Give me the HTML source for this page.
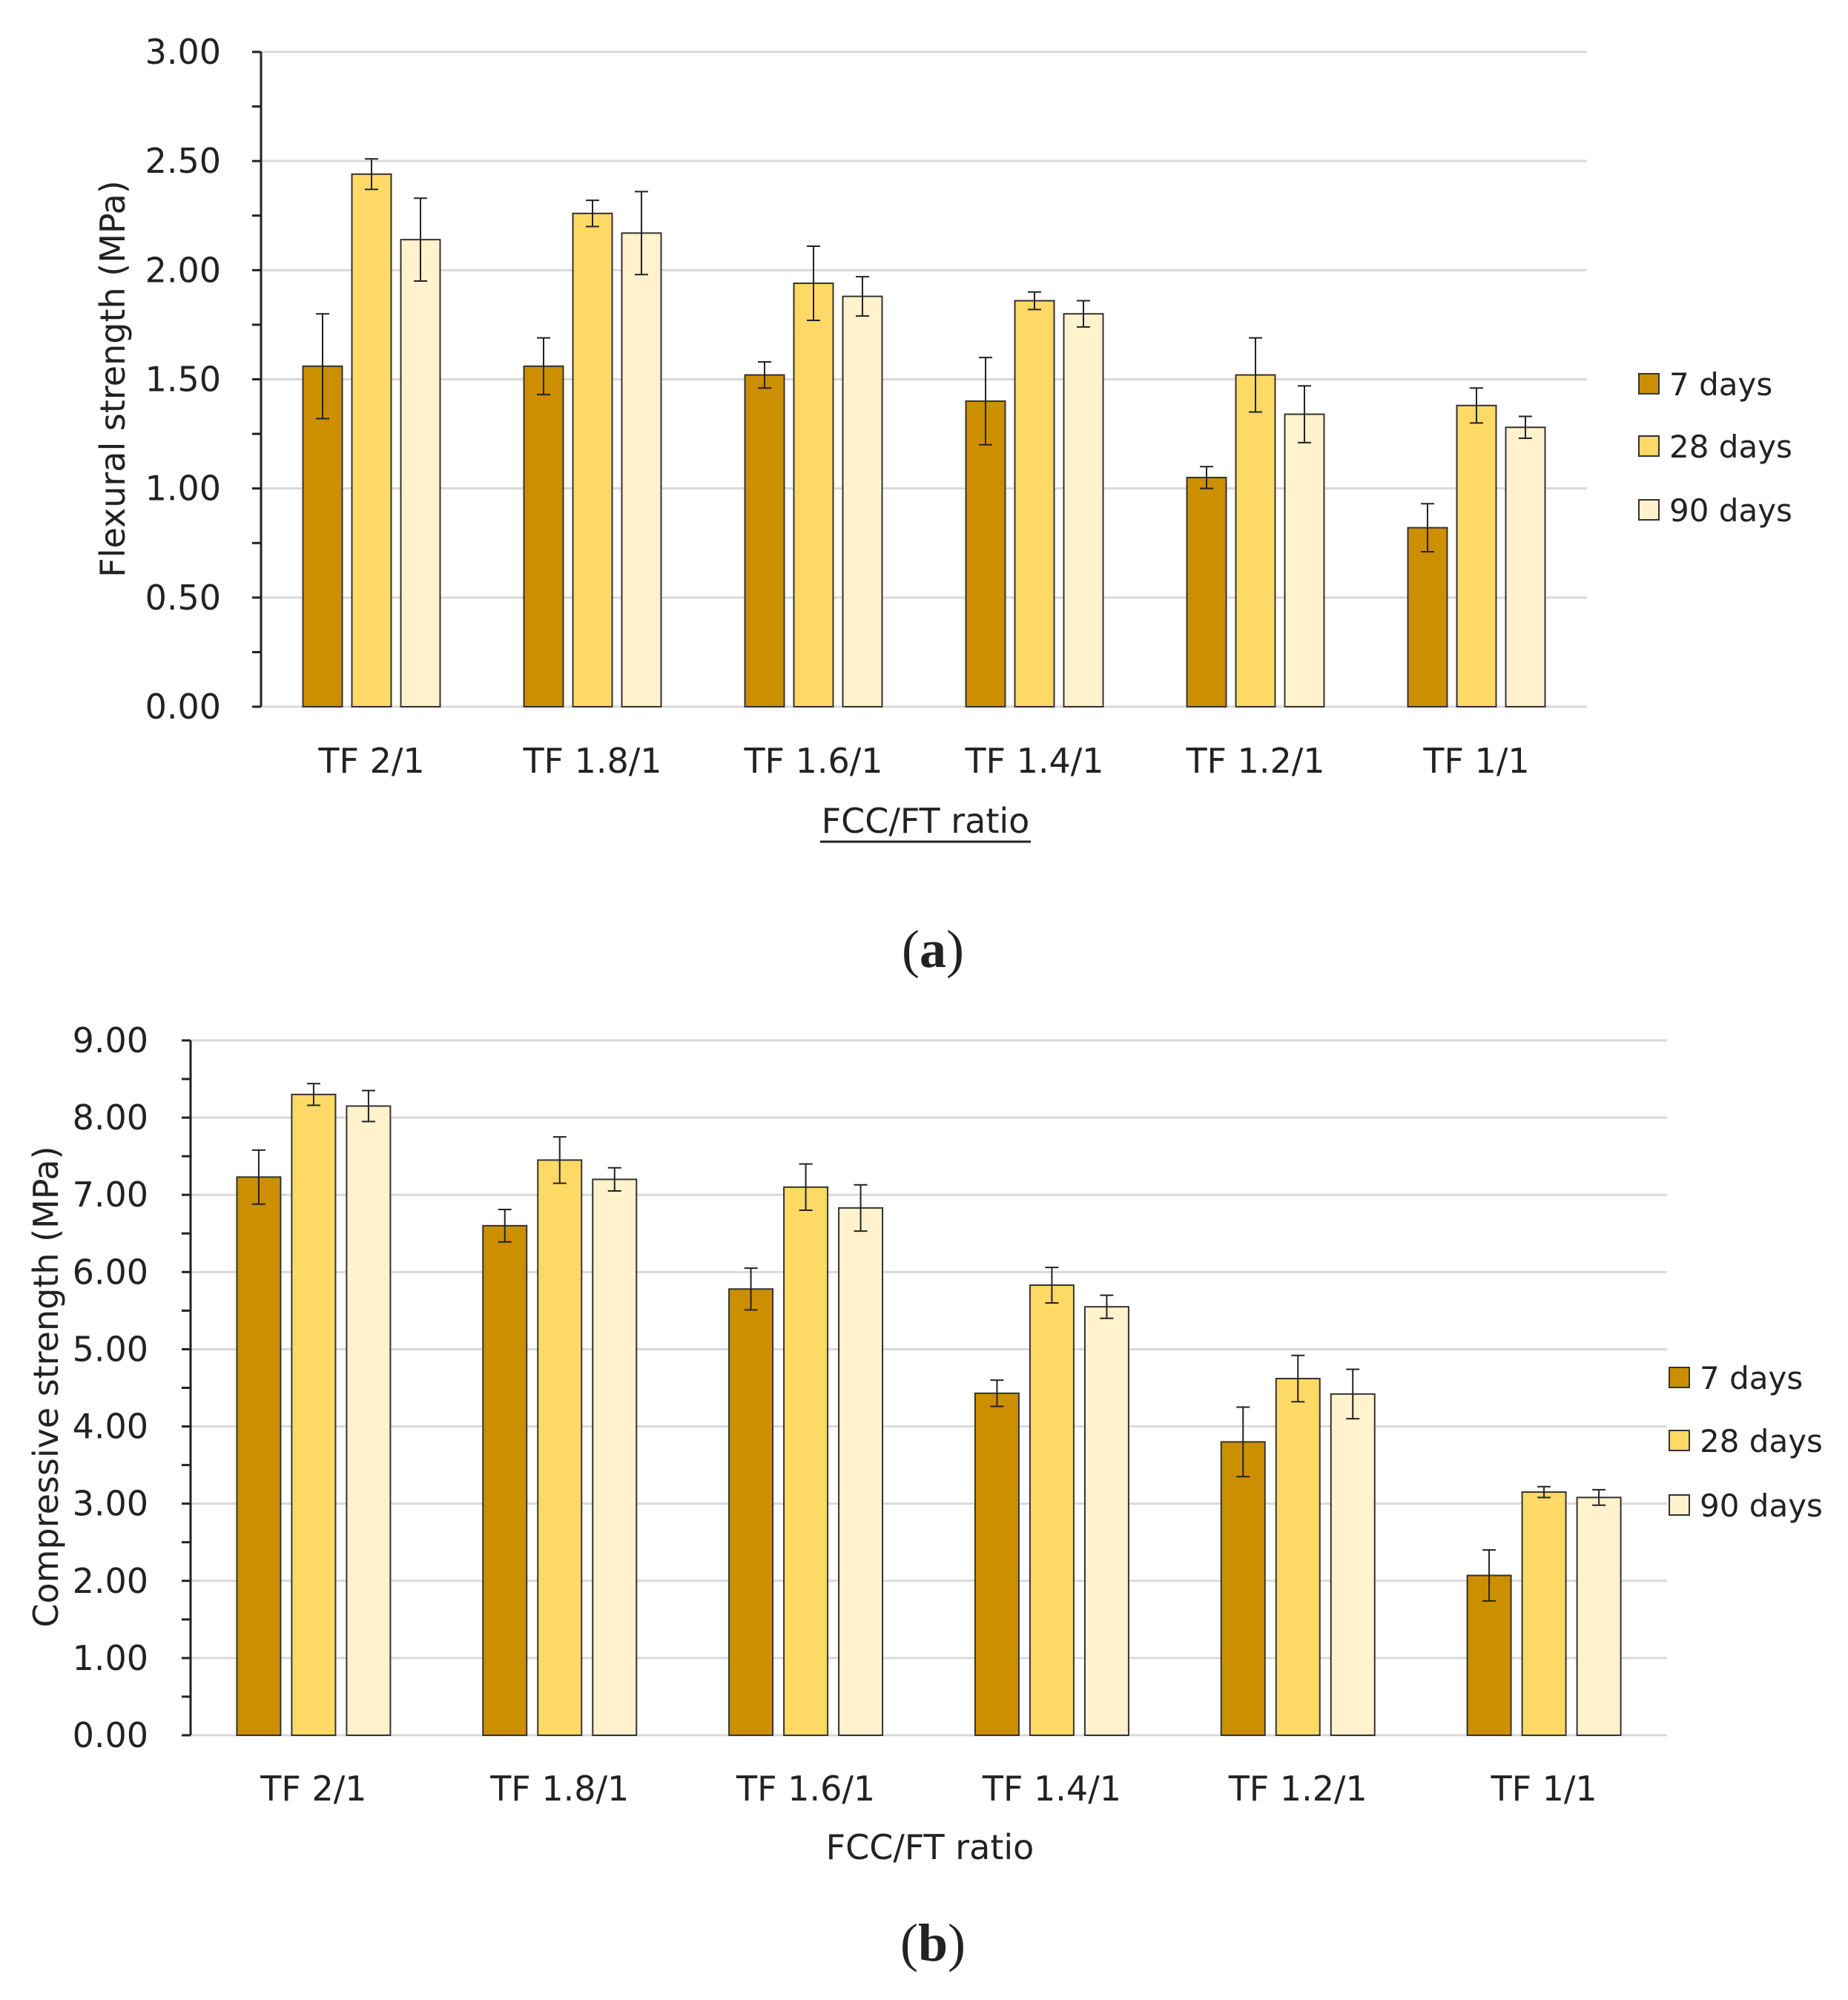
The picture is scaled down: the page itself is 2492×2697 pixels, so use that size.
<!DOCTYPE html>
<html><head><meta charset="utf-8">
<style>
html,body{margin:0;padding:0;background:#fff;}
svg{display:block;}
text{font-family:"DejaVu Sans","Liberation Sans",sans-serif;fill:#222;}
</style></head>
<body>
<svg id="s" xmlns="http://www.w3.org/2000/svg" width="2492" height="2697" viewBox="0 0 2492 2697"></svg>
<script>
const s=document.getElementById('s');let h='';
const cols=['#CC8F00','#FFD966','#FFF2CC'];
const cats=['TF 2/1','TF 1.8/1','TF 1.6/1','TF 1.4/1','TF 1.2/1','TF 1/1'];
function chart(o){
 const {x0,x1,yT,yB,max,step,minor,data,bw,pitch,lblR,ylab,ylx,yly,catY,axY,axLab,legX,legY,under,fs}=o;
 const sc=(yB-yT)/max;
 for(let v=0;v<=max+1e-9;v+=step){const y=yB-v*sc;
  h+=`<line x1="${x0}" x2="${x1}" y1="${y}" y2="${y}" stroke="#d9d9d9" stroke-width="3"/>`;
  h+=`<text x="${lblR}" y="${y+16}" font-size="${fs}" text-anchor="end">${v.toFixed(2)}</text>`;}
 for(let v=0;v<=max+1e-9;v+=minor){const y=yB-v*sc;h+=`<line x1="${x0-12}" x2="${x0}" y1="${y}" y2="${y}" stroke="#222" stroke-width="3"/>`;}
 const gw=(x1-x0)/6;
 data.forEach((g,i)=>{const c=x0+gw*(i+0.5);
  g.forEach((d,j)=>{const bx=c+(j-1)*pitch-bw/2;const y=yB-d[0]*sc;
   h+=`<rect x="${bx}" y="${y}" width="${bw}" height="${yB-y}" fill="${cols[j]}" stroke="#333" stroke-width="2"/>`;
   const cx=c+(j-1)*pitch,e1=yB-(d[0]+d[1])*sc,e2=yB-(d[0]-d[1])*sc;
   h+=`<line x1="${cx}" x2="${cx}" y1="${e1}" y2="${e2}" stroke="#222" stroke-width="2"/><line x1="${cx-9}" x2="${cx+9}" y1="${e1}" y2="${e1}" stroke="#222" stroke-width="2"/><line x1="${cx-9}" x2="${cx+9}" y1="${e2}" y2="${e2}" stroke="#222" stroke-width="2"/>`;});
  h+=`<text x="${c}" y="${catY}" font-size="${fs}" text-anchor="middle">${cats[i]}</text>`;});
 h+=`<line x1="${x0}" x2="${x0}" y1="${yT}" y2="${yB}" stroke="#222" stroke-width="3"/>`;
 h+=`<text transform="translate(${ylx},${yly}) rotate(-90)" font-size="${fs}" text-anchor="middle">${ylab}</text>`;
 h+=`<text x="${axLab[0]}" y="${axY}" font-size="${fs}" text-anchor="middle">FCC/FT ratio</text>`;
 if(under)h+=`<line x1="${axLab[0]-142}" x2="${axLab[0]+142}" y1="${axY+12}" y2="${axY+12}" stroke="#222" stroke-width="3"/>`;
 ['7 days','28 days','90 days'].forEach((t,j)=>{const y=legY[j];
  h+=`<rect x="${legX}" y="${y-14}" width="27" height="27" fill="${cols[j]}" stroke="#333" stroke-width="2"/><text x="${legX+41}" y="${y+15}" font-size="42">${t}</text>`;});
}
chart({x0:352,x1:2140,yT:70,yB:953,max:3,step:0.5,minor:0.25,bw:53,pitch:66,lblR:298,fs:46,
 ylab:'Flexural strength (MPa)',ylx:168,yly:511,catY:1042,axY:1123,axLab:[1248],legX:2210,legY:[518,602,688],under:true,
 data:[[[1.56,.24],[2.44,.07],[2.14,.19]],[[1.56,.13],[2.26,.06],[2.17,.19]],[[1.52,.06],[1.94,.17],[1.88,.09]],[[1.40,.20],[1.86,.04],[1.80,.06]],[[1.05,.05],[1.52,.17],[1.34,.13]],[[0.82,.11],[1.38,.08],[1.28,.05]]]});
chart({x0:257,x1:2248,yT:1403,yB:2340,max:9,step:1,minor:0.5,bw:59,pitch:74,lblR:200,fs:46,
 ylab:'Compressive strength (MPa)',ylx:78,yly:1870,catY:2428,axY:2507,axLab:[1254],legX:2251,legY:[1858,1943,2030],under:false,
 data:[[[7.23,.35],[8.30,.14],[8.15,.20]],[[6.60,.21],[7.45,.30],[7.20,.15]],[[5.78,.27],[7.10,.30],[6.83,.30]],[[4.43,.17],[5.83,.23],[5.55,.15]],[[3.80,.45],[4.62,.30],[4.42,.32]],[[2.07,.33],[3.15,.07],[3.08,.10]]]});
h+=`<text x="1258" y="1304" font-size="72" text-anchor="middle" style="font-family:'Liberation Serif',serif">(<tspan font-weight="bold">a</tspan>)</text>`;
h+=`<text x="1258" y="2644" font-size="72" text-anchor="middle" style="font-family:'Liberation Serif',serif">(<tspan font-weight="bold">b</tspan>)</text>`;
s.innerHTML=h;
</script>
</body></html>
